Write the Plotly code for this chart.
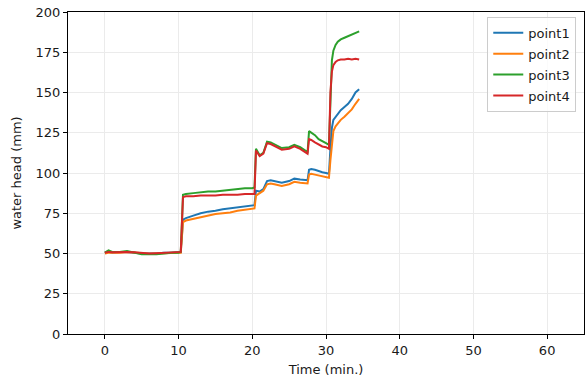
import plotly.graph_objects as go

time_min = [0, 0.5, 1, 2, 3, 4, 5, 6, 7, 8, 9, 10, 10.3, 10.6, 11, 12, 13, 14, 15, 16, 17, 18, 19, 20,
            20.3, 20.5, 21, 21.5, 22, 22.5, 23, 24, 25, 25.7, 26.5, 27.5, 27.7, 28, 28.5, 29, 29.5, 30,
            30.4, 30.6, 30.8, 31, 31.3, 31.6, 32, 32.5, 33, 33.5, 34, 34.5]

point1 = [50.5, 51, 50.5, 51, 51, 50.5, 50, 50, 50, 50.5, 50.5, 51, 51, 71, 72, 73.5, 75, 76, 76.5, 77.5, 78, 78.5, 79, 79.5,
          80, 89, 88.5, 90, 95, 95.5, 95, 94, 95, 96.5, 96, 95.5, 102, 102.5, 102, 101, 100.5, 100,
          99.5, 115, 128, 133, 135, 137, 139, 141, 143, 146, 150, 152]
point2 = [50, 50.5, 50.5, 50.5, 51, 50.5, 50, 49.8, 50, 50.3, 50.5, 50.5, 50.5, 69.5, 70.5, 71.5, 72.5, 73.5, 74.5, 75, 75.5, 76.5, 77, 77.5,
          78, 86, 87.5, 89, 93, 93.5, 93, 92, 93, 94.5, 94, 93.5, 99, 99.5, 99, 98.5, 98, 97.5,
          97, 108, 120, 126, 129, 131, 133, 135, 137, 139.5, 143, 146]
point3 = [50.5, 52, 51, 51, 51.5, 50.5, 49.5, 49.5, 49.5, 50, 50.5, 50.5, 51, 86.5, 87, 87.5, 88, 88.5, 88.5, 89, 89.5, 90, 90.5, 90.5,
          91, 115, 111, 112.5, 119.5, 119, 118, 115.5, 116, 117.5, 116, 113, 126, 125, 123.5, 121, 119.5, 118.5,
          117.5, 150, 170, 176, 179.5, 181.5, 183, 184, 185, 186, 187.5, 188]
point4 = [50.5, 51, 50.8, 51, 51, 50.8, 50.3, 50, 50.2, 50.5, 50.5, 51, 51, 85, 85.5, 85.5, 86, 86, 86, 86.5, 86.5, 86.5, 87, 87,
          87, 114, 110.5, 112, 118.5, 118, 117, 114.5, 115, 116.5, 115, 112, 121, 120.5, 119, 117.5, 116.5, 116,
          115, 150, 163, 167, 169, 170, 170.5, 170.5, 171, 170.5, 171, 170.5]

series = [("point1", point1, "#1f77b4"), ("point2", point2, "#ff7f0e"),
          ("point3", point3, "#2ca02c"), ("point4", point4, "#d62728")]

x_ticks = [0, 10, 20, 30, 40, 50, 60]
y_ticks = [0, 25, 50, 75, 100, 125, 150, 175, 200]

fig = go.Figure()
for name, vals, color in series:
    fig.add_trace(go.Scatter(x=time_min, y=vals, mode="lines", name=name, legendgroup=name,
                             line=dict(color=color, width=2)))

axis_common = dict(showline=True, linecolor="black", linewidth=1, mirror=True,
                   ticks="outside", ticklen=4, tickcolor="black",
                   showgrid=True, gridcolor="#ebebeb", gridwidth=1, zeroline=False,
                   tickfont=dict(family="DejaVu Sans", size=13, color="#1a1a1a"))

fig.update_layout(
    width=585, height=380,
    margin=dict(l=68, r=1, t=12, b=46, autoexpand=False),
    paper_bgcolor="white", plot_bgcolor="white",
    font=dict(family="DejaVu Sans", size=13, color="#1a1a1a"),
    xaxis=dict(range=[-5, 65], tickvals=x_ticks,
               title=dict(text="Time (min.)", font=dict(size=13), standoff=8), **axis_common),
    yaxis=dict(range=[0, 200], tickvals=y_ticks,
               title=dict(text="water head (mm)", font=dict(size=13), standoff=11), **axis_common),
    legend=dict(x=0.985, y=0.985, xanchor="right", yanchor="top",
                bgcolor="rgba(255,255,255,0.8)", bordercolor="#cccccc", borderwidth=1,
                font=dict(size=13), tracegroupgap=1, itemwidth=30),
    showlegend=True,
)

fig.write_html("out.html", config={"displayModeBar": False},
               post_script="document.body.style.margin='0';document.body.style.overflow='hidden';")
